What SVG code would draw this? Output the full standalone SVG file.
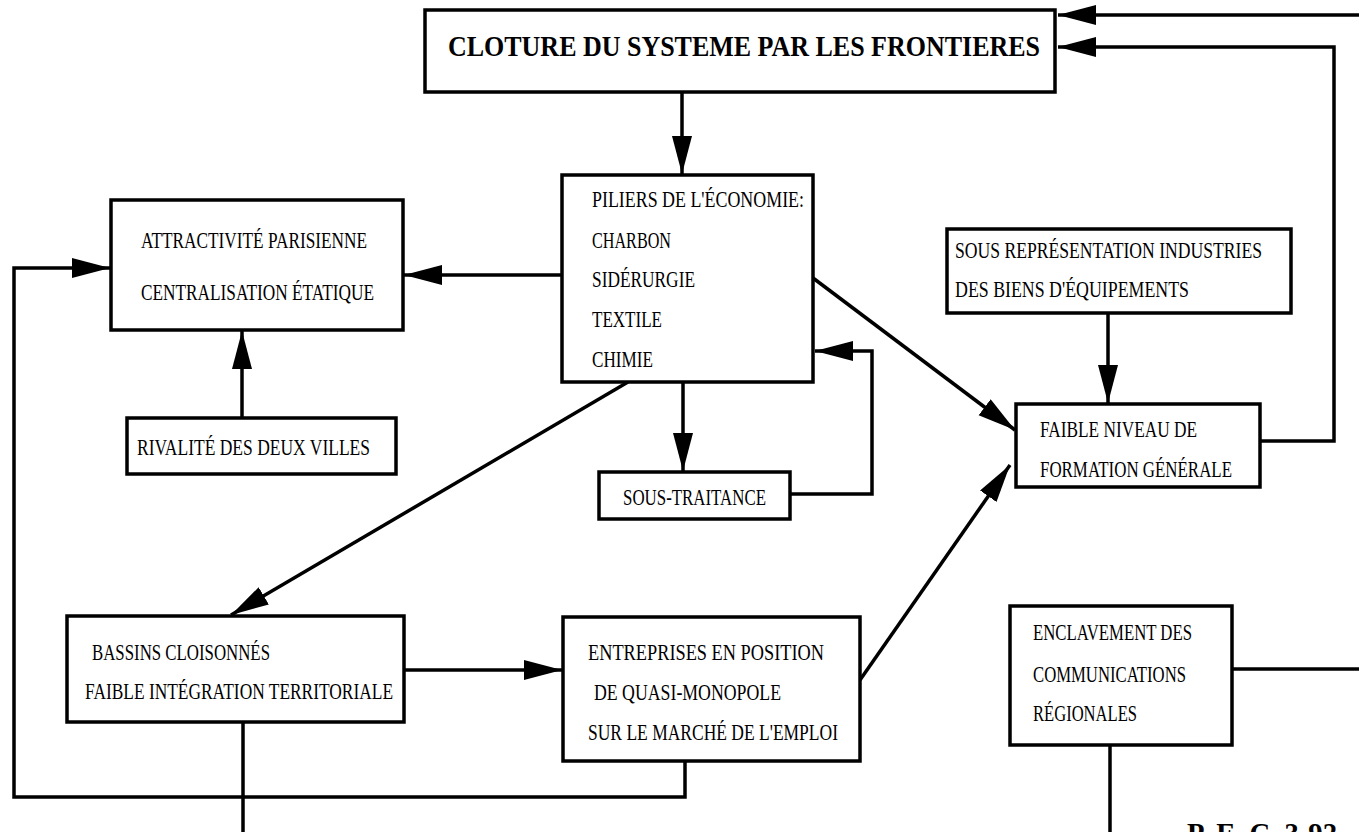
<svg xmlns="http://www.w3.org/2000/svg" width="1359" height="832" viewBox="0 0 1359 832">
<defs>
<style>
.box{fill:#fff;stroke:#000;stroke-width:3.5}
.t{font-family:"Liberation Serif","Times New Roman",serif;font-size:23px;fill:#000}
.title{font-family:"Liberation Serif","Times New Roman",serif;font-size:30px;font-weight:bold;fill:#000}
.c{fill:none;stroke:#000;stroke-width:3.5}
</style>
<marker id="ah" markerUnits="userSpaceOnUse" markerWidth="40" markerHeight="22" refX="38" refY="10" orient="auto">
<path d="M0,0 L38,10 L0,20 z" fill="#000"/>
</marker>
</defs>
<rect width="1359" height="832" fill="#fff"/>
<g id="connectors">
<line class="c" x1="1359" y1="15" x2="1058" y2="15" marker-end="url(#ah)"/>
<polyline class="c" points="1260,441 1334,441 1334,47 1058,47" marker-end="url(#ah)"/>
<line class="c" x1="682" y1="93" x2="682" y2="174" marker-end="url(#ah)"/>
<line class="c" x1="562" y1="275" x2="404" y2="275" marker-end="url(#ah)"/>
<polyline class="c" points="685,761 685,797 14,797 14,268 110,268" marker-end="url(#ah)"/>
<line class="c" x1="242" y1="418" x2="242" y2="331" marker-end="url(#ah)"/>
<line class="c" x1="683" y1="382" x2="683" y2="471" marker-end="url(#ah)"/>
<polyline class="c" points="791,494 872,494 872,351 815,351" marker-end="url(#ah)"/>
<line class="c" x1="628" y1="382" x2="231" y2="615" marker-end="url(#ah)"/>
<line class="c" x1="813" y1="278" x2="1015" y2="430" marker-end="url(#ah)"/>
<line class="c" x1="860" y1="680" x2="1010" y2="465" marker-end="url(#ah)"/>
<line class="c" x1="1108" y1="313" x2="1108" y2="403" marker-end="url(#ah)"/>
<line class="c" x1="404" y1="670" x2="562" y2="670" marker-end="url(#ah)"/>
<line class="c" x1="243" y1="722" x2="243" y2="832"/>
<line class="c" x1="1232" y1="669" x2="1359" y2="669"/>
<line class="c" x1="1110" y1="745" x2="1110" y2="832"/>
</g>
<g id="n-cloture">
<rect class="box" x="425" y="10" width="630" height="82"/>
<text class="title" x="448" y="56" textLength="592" lengthAdjust="spacingAndGlyphs">CLOTURE DU SYSTEME PAR LES FRONTIERES</text>
</g>
<g id="n-piliers">
<rect class="box" x="562" y="175" width="251" height="207"/>
<text class="t" x="592" y="207" textLength="212" lengthAdjust="spacingAndGlyphs">PILIERS DE L'ÉCONOMIE:</text>
<text class="t" x="592" y="248" textLength="79" lengthAdjust="spacingAndGlyphs">CHARBON</text>
<text class="t" x="592" y="287" textLength="103" lengthAdjust="spacingAndGlyphs">SIDÉRURGIE</text>
<text class="t" x="592" y="327" textLength="70" lengthAdjust="spacingAndGlyphs">TEXTILE</text>
<text class="t" x="592" y="367" textLength="61" lengthAdjust="spacingAndGlyphs">CHIMIE</text>
</g>
<g id="n-attractivite">
<rect class="box" x="111" y="200" width="292" height="130"/>
<text class="t" x="141" y="248" textLength="226" lengthAdjust="spacingAndGlyphs">ATTRACTIVITÉ PARISIENNE</text>
<text class="t" x="141" y="300" textLength="233" lengthAdjust="spacingAndGlyphs">CENTRALISATION ÉTATIQUE</text>
</g>
<g id="n-rivalite">
<rect class="box" x="127" y="418" width="269" height="56"/>
<text class="t" x="137" y="455" textLength="233" lengthAdjust="spacingAndGlyphs">RIVALITÉ  DES DEUX VILLES</text>
</g>
<g id="n-soustraitance">
<rect class="box" x="599" y="472" width="191" height="47"/>
<text class="t" x="623" y="505" textLength="143" lengthAdjust="spacingAndGlyphs">SOUS-TRAITANCE</text>
</g>
<g id="n-sousrep">
<rect class="box" x="947" y="229" width="344" height="84"/>
<text class="t" x="955" y="258" textLength="307" lengthAdjust="spacingAndGlyphs">SOUS REPRÉSENTATION INDUSTRIES</text>
<text class="t" x="955" y="297" textLength="234" lengthAdjust="spacingAndGlyphs">DES BIENS D'ÉQUIPEMENTS</text>
</g>
<g id="n-faible">
<rect class="box" x="1016" y="404" width="244" height="83"/>
<text class="t" x="1040" y="437" textLength="157" lengthAdjust="spacingAndGlyphs">FAIBLE  NIVEAU DE</text>
<text class="t" x="1040" y="477" textLength="192" lengthAdjust="spacingAndGlyphs">FORMATION GÉNÉRALE</text>
</g>
<g id="n-bassins">
<rect class="box" x="67" y="616" width="337" height="106"/>
<text class="t" x="92" y="660" textLength="178" lengthAdjust="spacingAndGlyphs">BASSINS CLOISONNÉS</text>
<text class="t" x="85" y="699" textLength="308" lengthAdjust="spacingAndGlyphs">FAIBLE INTÉGRATION TERRITORIALE</text>
</g>
<g id="n-entreprises">
<rect class="box" x="563" y="617" width="297" height="144"/>
<text class="t" x="588" y="660" textLength="236" lengthAdjust="spacingAndGlyphs">ENTREPRISES  EN POSITION</text>
<text class="t" x="594" y="700" textLength="187" lengthAdjust="spacingAndGlyphs">DE  QUASI-MONOPOLE</text>
<text class="t" x="588" y="740" textLength="250" lengthAdjust="spacingAndGlyphs">SUR LE MARCHÉ DE L'EMPLOI</text>
</g>
<g id="n-enclavement">
<rect class="box" x="1010" y="606" width="222" height="139"/>
<text class="t" x="1033" y="640" textLength="159" lengthAdjust="spacingAndGlyphs">ENCLAVEMENT DES</text>
<text class="t" x="1033" y="682" textLength="153" lengthAdjust="spacingAndGlyphs">COMMUNICATIONS</text>
<text class="t" x="1033" y="721" textLength="104" lengthAdjust="spacingAndGlyphs">RÉGIONALES</text>
</g>
<text class="title" x="1187" y="843" font-size="24" textLength="150" lengthAdjust="spacingAndGlyphs">P. E. C. 3-92</text>
</svg>
